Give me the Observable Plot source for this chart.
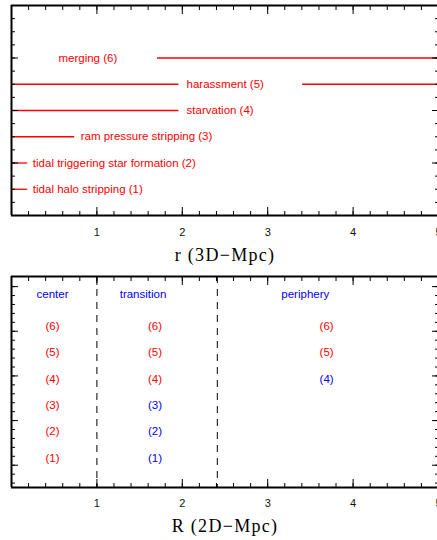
<!DOCTYPE html>
<html><head><meta charset="utf-8">
<script src="https://cdn.jsdelivr.net/npm/d3@7"></script>
<script src="https://cdn.jsdelivr.net/npm/@observablehq/plot@0.6"></script>
<style>
body{margin:0;background:#fff}
#chart svg{display:block}
</style>
</head><body><div id="chart"></div>
<script>
// ---- data: top panel (3D radius ranges of each process) ----
const processes = ["tidal halo stripping (1)", "tidal triggering star formation (2)", "ram pressure stripping (3)", "starvation (4)", "harassment (5)", "merging (6)"];
const procNum = [1, 2, 3, 4, 5, 6];
const segProc  = [1, 2, 3, 4, 5, 5, 6];
const segStart = [0, 0, 0, 0, 0, 3.41, 1.71];
const segEnd   = [0.19, 0.19, 0.74, 1.96, 1.96, 5, 5];
const labelX   = [0.25, 0.25, 0.81, 2.05, 2.05, 0.55];
const xTickLabels = [1, 2, 3, 4, 5];
const xTitleTop = "r (3D\u2212Mpc)";
const xTitleBottom = "R (2D\u2212Mpc)";

// ---- data: bottom panel (projected zones) ----
const zones = ["center", "transition", "periphery"];
const zoneHeaderX = [0.48, 1.54, 3.44];
const zoneLabelX  = [0.48, 1.68, 3.69];
const zoneBoundaries = [1.0, 2.41];
const centerStatus     = ["effective", "effective", "effective", "effective", "effective", "effective"];
const transitionStatus = ["weak", "weak", "weak", "effective", "effective", "effective"];
const peripheryStatus  = [null, null, null, "weak", "effective", "effective"];
const statusKinds = ["effective", "weak"];

// ---- build tables ----
const segs = segProc.map((p, i) => ({p, x1: segStart[i], x2: segEnd[i]}));
const labels = processes.map((name, i) => ({name, p: procNum[i], x: labelX[i]}));
const statusByZone = [centerStatus, transitionStatus, peripheryStatus];
const zoneTexts = [];
statusByZone.forEach((st, z) => st.forEach((s, i) => {
  if (s) zoneTexts.push({x: zoneLabelX[z], p: procNum[i], status: s, text: `(${procNum[i]})`});
}));
const headers = zones.map((z, i) => ({z, x: zoneHeaderX[i]}));

const RED = "#ff0000", BLUE = "#0000ff";
const sans = "Liberation Sans, Arial, Helvetica, sans-serif";
const serif = "Liberation Serif, Times New Roman, serif";

const minorX = d3.range(0, 26).map(i => i * 0.2);
const majorX = d3.range(0, 6);

function xTicks() {
  return [
    Plot.axisX({anchor: "bottom", ticks: minorX, tickSize: -4, fill: "none", label: null, stroke: "#000"}),
    Plot.axisX({anchor: "bottom", ticks: majorX, tickSize: -8, fill: "none", label: null, stroke: "#000"}),
    Plot.axisX({anchor: "top", ticks: minorX, tickSize: -4, fill: "none", label: null, stroke: "#000"}),
    Plot.axisX({anchor: "top", ticks: majorX, tickSize: -8, fill: "none", label: null, stroke: "#000"})
  ];
}
function yTicks(minor, major) {
  return [
    Plot.axisY({anchor: "left", ticks: minor, tickSize: -4, fill: "none", label: null, stroke: "#000"}),
    Plot.axisY({anchor: "left", ticks: major, tickSize: -7, fill: "none", label: null, stroke: "#000"}),
    Plot.axisY({anchor: "right", ticks: minor, tickSize: -4, fill: "none", label: null, stroke: "#000"}),
    Plot.axisY({anchor: "right", ticks: major, tickSize: -7, fill: "none", label: null, stroke: "#000"})
  ];
}
function frame(ymax) {
  return [
    Plot.ruleX([0], {stroke: "#000", strokeWidth: 2}),
    Plot.ruleY([0, ymax], {stroke: "#000", strokeWidth: 2})
  ];
}

// ---- top panel ----
const topMinorY = d3.range(0, 17).map(i => i * 0.5);
const topMajorY = [0, 2, 4, 6, 8];
const topPlot = Plot.plot({
  width: 437, height: 270,
  marginTop: 5, marginLeft: 11, marginRight: -1, marginBottom: 55,
  x: {domain: [0, 5]},
  y: {domain: [0, 8]},
  style: {fontFamily: sans, fontSize: "11px", color: "#000", background: "#fff"},
  marks: [
    Plot.ruleY(segs, {y: "p", x1: "x1", x2: "x2", stroke: RED, strokeWidth: 1.3}),
    Plot.text(labels, {x: "x", y: "p", text: "name", textAnchor: "start", fill: RED, fontSize: 11.5, fontFamily: sans}),
    ...xTicks(),
    ...yTicks(topMinorY, topMajorY),
    Plot.axisX({anchor: "bottom", ticks: xTickLabels, tickFormat: "d", tickSize: 0, tickPadding: 13, label: null, fill: "#111", fontSize: 11}),
    Plot.text([xTitleTop], {frameAnchor: "bottom", lineAnchor: "middle", dy: 40, fontFamily: serif, fontSize: 18, fill: "#000"}),
    ...frame(8)
  ]
});

// ---- bottom panel ----
const botMinorY = d3.range(0, 23).map(i => 0.167 + i * 0.3386);
const botMajorY = botMinorY.filter((d, i) => i % 5 === 2);
const bottomPlot = Plot.plot({
  width: 437, height: 270,
  marginTop: 6, marginLeft: 11, marginRight: -1, marginBottom: 53,
  x: {domain: [0, 5]},
  y: {domain: [0, 8]},
  color: {domain: statusKinds, range: [RED, BLUE]},
  style: {fontFamily: sans, fontSize: "11px", color: "#000", background: "#fff"},
  marks: [
    Plot.ruleX(zoneBoundaries, {stroke: "#000", strokeWidth: 1, strokeDasharray: "7,6"}),
    Plot.text(headers, {x: "x", y: 7.2, dy: -3, text: "z", fill: BLUE, fontSize: 11.5, fontFamily: sans}),
    Plot.text(zoneTexts, {x: "x", y: "p", dy: -3, text: "text", fill: "status", fontSize: 11.5, fontFamily: sans}),
    ...xTicks(),
    ...yTicks(botMinorY, botMajorY),
    Plot.axisX({anchor: "bottom", ticks: xTickLabels, tickFormat: "d", tickSize: 0, tickPadding: 12, label: null, fill: "#111", fontSize: 11}),
    Plot.text([xTitleBottom], {frameAnchor: "bottom", lineAnchor: "middle", dy: 39, fontFamily: serif, fontSize: 18, fill: "#000"}),
    ...frame(8)
  ]
});

const root = document.getElementById("chart");
root.appendChild(topPlot);
root.appendChild(bottomPlot);
// widen the axis titles' letter spacing like the reference typesetting
d3.select(root).selectAll("text").filter(function() {
  const t = this.textContent; return t === xTitleTop || t === xTitleBottom;
}).attr("letter-spacing", "1.3px");
</script>
</body></html>
